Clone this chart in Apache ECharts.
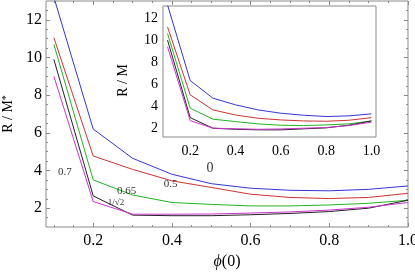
<!DOCTYPE html>
<html><head><meta charset="utf-8">
<script src="https://cdn.jsdelivr.net/npm/echarts@6/dist/echarts.min.js"></script>
<style>html,body{margin:0;padding:0;background:#fff}#c{width:415px;height:275px}</style>
</head><body><div id="c"></div>
<script>
// ---- data ----
const phi = [0.1, 0.2, 0.3, 0.4, 0.5, 0.6, 0.7, 0.8, 0.9, 1.0];
const seriesNames = ['0', '0.5', '0.65', '1/√2', '0.7'];
const mainBlue    = [13.2, 6.2, 4.65, 3.8, 3.3, 3.06, 2.95, 2.92, 3.0, 3.18];
const mainRed     = [11.05, 4.77, 4.06, 3.45, 3.1, 2.74, 2.57, 2.51, 2.57, 2.79];
const mainGreen   = [10.7, 3.5, 2.7, 2.3, 2.2, 2.12, 2.12, 2.17, 2.26, 2.42];
const mainBlack   = [9.9, 2.65, 1.63, 1.6, 1.6, 1.65, 1.72, 1.82, 2.0, 2.42];
const mainMagenta = [9.0, 2.35, 1.68, 1.68, 1.69, 1.74, 1.8, 1.9, 2.05, 2.3];
const insetBlue    = [13.2, 6.33, 4.73, 4.12, 3.66, 3.36, 3.18, 3.06, 3.12, 3.3];
const insetRed     = [11.2, 5.03, 3.66, 3.2, 2.9, 2.75, 2.66, 2.63, 2.72, 2.96];
const insetGreen   = [10.6, 3.82, 2.82, 2.6, 2.39, 2.27, 2.24, 2.3, 2.39, 2.66];
const insetBlack   = [10.0, 2.96, 2.0, 1.9, 1.85, 1.85, 1.94, 2.03, 2.27, 2.66];
const insetMagenta = [9.4, 2.69, 2.0, 1.95, 1.9, 1.93, 2.0, 2.06, 2.24, 2.55];
const xMajorTicks = [0.2, 0.4, 0.6, 0.8, 1.0];
const xMinorTicks = [0.1, 0.15, 0.25, 0.3, 0.35, 0.45, 0.5, 0.55, 0.65, 0.7, 0.75, 0.85, 0.9, 0.95];
const yMajorTicks = [2, 4, 6, 8, 10, 12];
const yMinorTicks = [1.5, 2.5, 3, 3.5, 4.5, 5, 5.5, 6.5, 7, 7.5, 8.5, 9, 9.5, 10.5, 11, 11.5, 12.5];
// curve labels: [text, phi, R/M*]
const curveLabels = [
  ['0.7', 0.128, 3.94],
  ['0.65', 0.285, 2.93],
  ['1/√2', 0.258, 2.29],
  ['0.5', 0.397, 3.28],
  ['0', 0.497, 4.13]
];

// ---- styling ----
const FONT = 'Liberation Serif';
const FRAME = '#8a8a8a';
const COLORS = ['#3535d5', '#cc3333', '#22b522', '#222222', '#cc33cc'];

function xAxes(grid, min, max, labelSize, margin, name) {
  const c = {type: 'value', gridIndex: grid, min: min, max: max, splitLine: {show: false}};
  const major = {inside: true, length: 4, customValues: xMajorTicks, lineStyle: {color: FRAME}};
  const minor = {inside: true, length: 2, customValues: xMinorTicks, lineStyle: {color: FRAME}};
  const noLine = {show: false, onZero: false};
  const a0 = Object.assign({}, c, {
    position: 'bottom', axisLine: noLine, axisTick: major,
    axisLabel: {customValues: xMajorTicks, formatter: v => v.toFixed(1), color: '#000', fontFamily: FONT, fontSize: labelSize, margin: margin}
  });
  if (name) {
    Object.assign(a0, {name: name, nameLocation: 'middle', nameGap: 27,
      nameTextStyle: {color: '#000', fontFamily: FONT, fontSize: 16, rich: {i: {fontStyle: 'italic', fontFamily: FONT, fontSize: 16, color: '#000'}}}});
  }
  return [
    a0,
    Object.assign({}, c, {position: 'bottom', axisLine: noLine, axisTick: minor, axisLabel: {show: false}}),
    Object.assign({}, c, {position: 'top', axisLine: noLine, axisTick: major, axisLabel: {show: false}}),
    Object.assign({}, c, {position: 'top', axisLine: noLine, axisTick: minor, axisLabel: {show: false}})
  ];
}
function yAxes(grid, min, max, labelSize, margin, name, nameGap, namePad) {
  const c = {type: 'value', gridIndex: grid, min: min, max: max, splitLine: {show: false}};
  const major = {inside: true, length: 4, customValues: yMajorTicks, lineStyle: {color: FRAME}};
  const minor = {inside: true, length: 2, customValues: yMinorTicks, lineStyle: {color: FRAME}};
  const noLine = {show: false, onZero: false};
  return [
    Object.assign({}, c, {
      position: 'left', axisLine: noLine, axisTick: major,
      axisLabel: {customValues: yMajorTicks, color: '#000', fontFamily: FONT, fontSize: labelSize, margin: margin},
      name: name, nameLocation: 'middle', nameGap: nameGap,
      nameTextStyle: {color: '#000', fontFamily: FONT, fontSize: 14, padding: namePad,
        rich: {s: {fontSize: 10, verticalAlign: 'top', fontFamily: FONT, color: '#000'}}}
    }),
    Object.assign({}, c, {position: 'left', axisLine: noLine, axisTick: minor, axisLabel: {show: false}}),
    Object.assign({}, c, {position: 'right', axisLine: noLine, axisTick: major, axisLabel: {show: false}}),
    Object.assign({}, c, {position: 'right', axisLine: noLine, axisTick: minor, axisLabel: {show: false}})
  ];
}

const mainSets = [mainBlue, mainRed, mainGreen, mainBlack, mainMagenta];
const insetSets = [insetBlue, insetRed, insetGreen, insetBlack, insetMagenta];
const series = [];
mainSets.forEach((d, i) => series.push({
  type: 'line', name: seriesNames[i], xAxisIndex: 0, yAxisIndex: 0, showSymbol: false, silent: true,
  data: phi.map((x, k) => [x, d[k]]), lineStyle: {color: COLORS[i], width: 1}, z: 3
}));
insetSets.forEach((d, i) => series.push({
  type: 'line', name: seriesNames[i] + ' inset', xAxisIndex: 4, yAxisIndex: 4, showSymbol: false, silent: true,
  data: phi.map((x, k) => [x, d[k]]), lineStyle: {color: COLORS[i], width: 1}, z: 3
}));
const labelSeries = {
  type: 'scatter', xAxisIndex: 0, yAxisIndex: 0, symbolSize: 0, silent: true,
  data: curveLabels.map(l => ({value: [l[1], l[2]], name: l[0]})),
  label: {show: true, position: 'inside', formatter: p => p.name, color: '#000', fontFamily: FONT, fontSize: 11},
  z: 5
};
labelSeries.data.forEach(d => {
  if (d.name === '0') d.label = {fontSize: 14};
  if (d.name === '1/√2') d.label = {fontSize: 9};
});
series.push(labelSeries);

const option = {
  backgroundColor: '#fff',
  animation: false,
  grid: [
    {left: 46, top: 1, right: 7, bottom: 48, containLabel: false, outerBoundsMode: 'none',
     show: true, backgroundColor: 'transparent', borderColor: FRAME, borderWidth: 1},
    {left: 163, top: 6, right: 39, bottom: 138, containLabel: false, outerBoundsMode: 'none',
     show: true, backgroundColor: '#fff', borderColor: FRAME, borderWidth: 1, z: 1}
  ],
  xAxis: xAxes(0, 0.08, 1.0, 16, 6, '{i|ϕ}(0)').concat(xAxes(1, 0.08, 1.02, 14, 7, null)),
  yAxis: yAxes(0, 1, 13, 16, 4, 'R / M{s|*}', 29, 0).concat(yAxes(1, 1.2, 13.1, 14, 5, 'R / M', 33, [0, 18, 0, 0])),
  series: series
};
const chart = echarts.init(document.getElementById('c'), null, {renderer: 'canvas'});
chart.setOption(option);
</script></body></html>
